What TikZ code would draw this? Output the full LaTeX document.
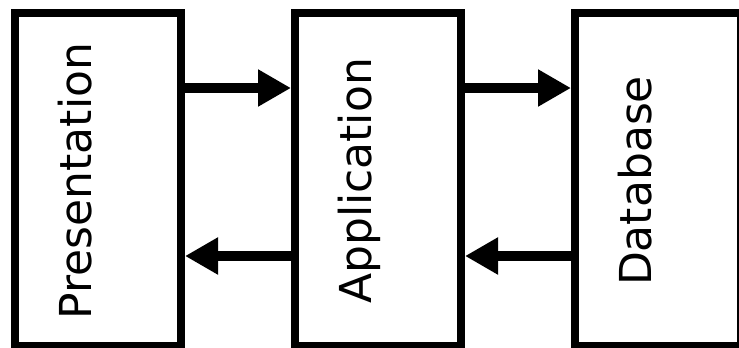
\documentclass[tikz,border=0pt]{standalone}
\usepackage{fontspec}
\setmainfont{DejaVu Sans}
\usetikzlibrary{arrows.meta}
\begin{document}
\begin{tikzpicture}
			[x=1pt,y=-1pt,
			tier/.style={draw,line width=8pt,minimum width=166pt,minimum height=333pt,inner sep=0pt},
			tiertext/.style={rotate=90,anchor=base,inner sep=0pt,font=\fontsize{44}{50}\selectfont},
			flow/.style={-{Triangle[length=33pt,width=35pt]}}]
			\useasboundingbox (0,0) rectangle (739,348);
			\node[tier] (P) at (98,179.5) {};
			\node[tier] (A) at (378,179.5) {};
			\node[tier] (D) at (658,179.5) {};
			\node[tiertext] (Pt) at ([xshift=-7pt,yshift=-1.5pt]P.center) {Presentation};
			\node[tiertext] (At) at ([xshift=-7pt,yshift=-1.5pt]A.center) {Application};
			\node[tiertext] (Dt) at ([xshift=-7pt,yshift=-1.5pt]D.center) {Database};
			\path[draw,line width=10pt]
			([yshift=91.5pt]P.east) edge[flow] ([yshift=91.5pt]A.west)
			([yshift=91.5pt]A.east) edge[flow] ([yshift=91.5pt]D.west)
			([yshift=-76.5pt]A.west) edge[flow] ([yshift=-76.5pt]P.east)
			([yshift=-76.5pt]D.west) edge[flow] ([yshift=-76.5pt]A.east);
		\end{tikzpicture}
\end{document}
